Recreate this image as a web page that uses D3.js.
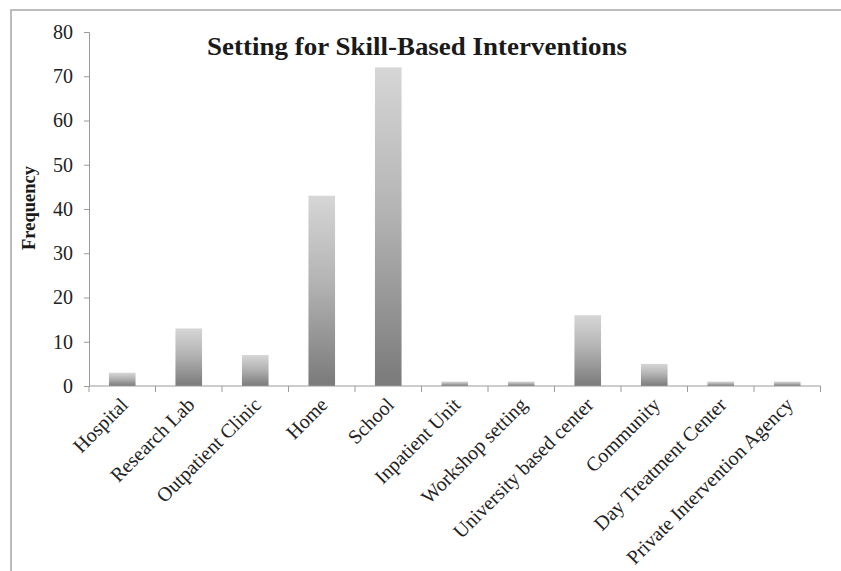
<!DOCTYPE html>
<html>
<head>
<meta charset="utf-8">
<script src="https://cdn.jsdelivr.net/npm/d3@7"></script>
<style>
  html, body { margin: 0; padding: 0; background: #fff; }
  svg { display: block; }
</style>
</head>
<body>
<svg id="chart" width="841" height="571"></svg>
<script>
// Setting categories and how often each appears
const categories = [
  "Hospital", "Research Lab", "Outpatient Clinic", "Home", "School",
  "Inpatient Unit", "Workshop setting", "University based center",
  "Community", "Day Treatment Center", "Private Intervention Agency"
];
const frequencies = [3, 13, 7, 43, 72, 1, 1, 16, 5, 1, 1];
const yTicks = [0, 10, 20, 30, 40, 50, 60, 70, 80];
const chartTitle = "Setting for Skill-Based Interventions";
const yTitle = "Frequency";

const svg = d3.select("#chart");
const serif = "'Liberation Serif', 'Times New Roman', serif";

// outer frame
svg.append("rect")
  .attr("x", 11).attr("y", 10)
  .attr("width", 841).attr("height", 571)
  .attr("fill", "none").attr("stroke", "#a8a8a8").attr("stroke-width", 1.5);

const plot = { left: 89, right: 820.5, top: 32, bottom: 386 };

const x = d3.scaleBand()
  .domain(categories)
  .range([plot.left, plot.right])
  .paddingInner(0.6).paddingOuter(0.3);

const y = d3.scaleLinear().domain([0, 80]).range([plot.bottom, plot.top]);

// bar shading: light at the top, darker at the base
const defs = svg.append("defs");
const grad = defs.append("linearGradient")
  .attr("id", "barGrad")
  .attr("x1", 0).attr("y1", 0).attr("x2", 0).attr("y2", 1);
grad.append("stop").attr("offset", "0%").attr("stop-color", "#d6d6d6");
grad.append("stop").attr("offset", "45%").attr("stop-color", "#b4b4b4");
grad.append("stop").attr("offset", "100%").attr("stop-color", "#7a7a7a");

const soft = defs.append("filter").attr("id", "soft")
  .attr("x", "-20%").attr("y", "-20%").attr("width", "140%").attr("height", "140%");
soft.append("feGaussianBlur").attr("stdDeviation", 0.4);

svg.append("g")
  .selectAll("rect")
  .data(categories)
  .join("rect")
  .attr("x", d => x(d))
  .attr("width", x.bandwidth())
  .attr("y", (d, i) => y(frequencies[i]))
  .attr("height", (d, i) => y(0) - y(frequencies[i]))
  .attr("fill", "url(#barGrad)")
  .attr("filter", "url(#soft)");

// y axis
const yAxis = svg.append("g")
  .attr("transform", `translate(${plot.left},0)`)
  .call(d3.axisLeft(y).tickValues(yTicks).tickSize(5).tickPadding(11));
yAxis.select(".domain").attr("stroke", "#9a9a9a");
yAxis.selectAll(".tick line").attr("stroke", "#9a9a9a");
yAxis.selectAll(".tick text")
  .attr("font-family", serif).attr("font-size", 20).attr("fill", "#222");

// x axis: ticks at category boundaries
const xAxisG = svg.append("g").attr("transform", `translate(0,${plot.bottom})`);
xAxisG.append("line")
  .attr("x1", plot.left).attr("x2", plot.right)
  .attr("stroke", "#9a9a9a");
const bounds = d3.range(categories.length + 1).map(i => plot.left + i * (plot.right - plot.left) / categories.length);
xAxisG.selectAll(".bt")
  .data(bounds)
  .join("line")
  .attr("x1", d => d).attr("x2", d => d)
  .attr("y1", 0).attr("y2", 6)
  .attr("stroke", "#9a9a9a");

xAxisG.selectAll(".lbl")
  .data(categories)
  .join("text")
  .attr("font-family", serif).attr("font-size", 20).attr("fill", "#222")
  .attr("text-anchor", "end")
  .attr("transform", d => `translate(${x(d) + x.bandwidth() / 2 + 7},${20}) rotate(-45)`)
  .text(d => d);

// titles
svg.append("text")
  .attr("x", 417).attr("y", 54.5)
  .attr("text-anchor", "middle")
  .attr("font-family", serif).attr("font-weight", "bold").attr("font-size", 25.5)
  .attr("textLength", 420).attr("lengthAdjust", "spacingAndGlyphs")
  .attr("fill", "#1a1a1a")
  .text(chartTitle);

svg.append("text")
  .attr("transform", "translate(35,208) rotate(-90)")
  .attr("text-anchor", "middle")
  .attr("font-family", serif).attr("font-weight", "bold").attr("font-size", 18.5)
  .attr("fill", "#1a1a1a")
  .text(yTitle);
</script>
</body>
</html>
